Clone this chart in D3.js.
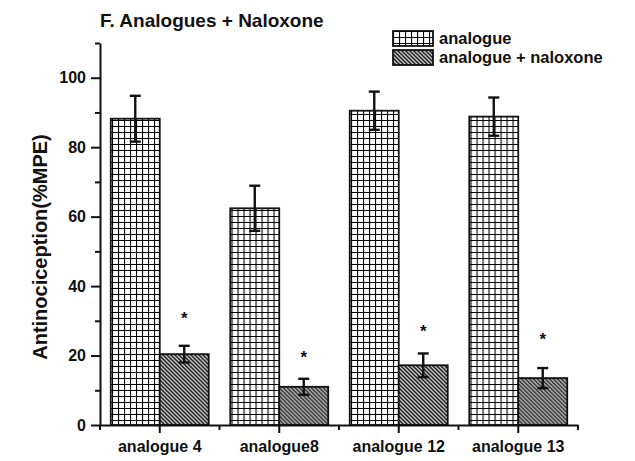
<!DOCTYPE html>
<html>
<head>
<meta charset="utf-8">
<script src="https://cdn.jsdelivr.net/npm/d3@7"></script>
<style>
  body { margin: 0; background: #fff; }
  text { font-family: "Liberation Sans", Arial, sans-serif; font-weight: bold; fill: #111; }
</style>
</head>
<body>
<script>
// data
const groups = ["analogue 4", "analogue8", "analogue 12", "analogue 13"];
const seriesNames = ["analogue", "analogue + naloxone"];
const analogueMean = [88.2, 62.4, 90.5, 88.8];
const analogueErr = [6.6, 6.5, 5.5, 5.5];
const naloxoneMean = [20.4, 11.0, 17.2, 13.5];
const naloxoneErr = [2.4, 2.3, 3.4, 2.9];
const starY = [31, 20, 27.5, 25];
const yTicks = [0, 20, 40, 60, 80, 100];

const width = 635, height = 461,
  margin = {left: 100, right: 57, top: 43, bottom: 36};

const svg = d3.select("body").append("svg")
  .attr("width", width)
  .attr("height", height);

const defs = svg.append("defs");

// square grid fill
const grid = defs.append("pattern")
  .attr("id", "grid")
  .attr("patternUnits", "userSpaceOnUse")
  .attr("width", 6).attr("height", 6);
grid.append("rect").attr("width", 6).attr("height", 6).attr("fill", "#fff");
grid.append("path")
  .attr("d", "M0,0H6M0,0V6")
  .attr("stroke", "#000").attr("stroke-width", 2.2);

// diagonal hatch fill
const hatch = defs.append("pattern")
  .attr("id", "hatch")
  .attr("patternUnits", "userSpaceOnUse")
  .attr("width", 4).attr("height", 4);
hatch.append("rect").attr("width", 4).attr("height", 4).attr("fill", "#c8c8c8");
hatch.append("path")
  .attr("d", "M-1,-1L5,5M-1,3L1,5M3,-1L5,1")
  .attr("stroke", "#222").attr("stroke-width", 1.5);

const x = d3.scaleBand()
  .domain(groups)
  .range([margin.left, width - margin.right]);

const sub = d3.scaleBand()
  .domain(seriesNames)
  .range([0, x.bandwidth()])
  .paddingOuter(0.22);

const y = d3.scaleLinear()
  .domain([0, 110])
  .range([height - margin.bottom, margin.top]);

const rows = groups.map((g, i) => ({
  group: g,
  bars: [
    {name: seriesNames[0], v: analogueMean[i], e: analogueErr[i], fill: "url(#grid)"},
    {name: seriesNames[1], v: naloxoneMean[i], e: naloxoneErr[i], fill: "url(#hatch)"}
  ],
  star: starY[i]
}));

const g = svg.append("g")
  .selectAll("g")
  .data(rows)
  .join("g")
  .attr("transform", d => `translate(${x(d.group)},0)`);

g.selectAll("rect")
  .data(d => d.bars)
  .join("rect")
  .attr("x", d => sub(d.name))
  .attr("width", sub.bandwidth())
  .attr("y", d => y(d.v))
  .attr("height", d => y(0) - y(d.v))
  .attr("fill", d => d.fill)
  .attr("stroke", "#111")
  .attr("stroke-width", 1.8);

// error bars
const err = g.selectAll("g.err")
  .data(d => d.bars)
  .join("g")
  .attr("class", "err")
  .attr("stroke", "#111")
  .attr("stroke-width", 2.4);
err.append("line")
  .attr("x1", d => sub(d.name) + sub.bandwidth() / 2)
  .attr("x2", d => sub(d.name) + sub.bandwidth() / 2)
  .attr("y1", d => y(d.v - d.e))
  .attr("y2", d => y(d.v + d.e));
err.selectAll("line.cap")
  .data(d => [d.v - d.e, d.v + d.e].map(v => ({v: v, cx: sub(d.name) + sub.bandwidth() / 2})))
  .join("line")
  .attr("class", "cap")
  .attr("x1", d => d.cx - 5.5)
  .attr("x2", d => d.cx + 5.5)
  .attr("y1", d => y(d.v))
  .attr("y2", d => y(d.v));

// significance marks
g.append("text")
  .attr("x", sub(seriesNames[1]) + sub.bandwidth() / 2)
  .attr("y", d => y(d.star) + 7)
  .attr("text-anchor", "middle")
  .style("font-size", "17px")
  .text("*");

// y axis
const yAxis = svg.append("g")
  .attr("transform", `translate(${margin.left},0)`)
  .call(d3.axisLeft(y).tickValues(yTicks).tickSize(9).tickPadding(5).tickSizeOuter(0));
yAxis.select(".domain").attr("stroke", "#111").attr("stroke-width", 2);
yAxis.selectAll(".tick line").attr("stroke", "#111").attr("stroke-width", 2);
yAxis.selectAll("text").style("font-size", "16px");
svg.append("g")
  .attr("transform", `translate(${margin.left},0)`)
  .call(d3.axisLeft(y).tickValues(d3.range(10, 111, 20)).tickSize(5).tickFormat(""))
  .call(a => a.select(".domain").remove())
  .selectAll("line").attr("stroke", "#111").attr("stroke-width", 2);

// x axis
const xAxis = svg.append("g")
  .attr("transform", `translate(0,${y(0)})`)
  .call(d3.axisBottom(x).tickSize(8).tickPadding(8).tickSizeOuter(0));
xAxis.select(".domain").attr("stroke", "#111").attr("stroke-width", 2);
xAxis.selectAll(".tick line").attr("stroke", "#111").attr("stroke-width", 2);
xAxis.selectAll("text").style("font-size", "16px");
svg.append("g")
  .attr("transform", `translate(0,${y(0)})`)
  .selectAll("line")
  .data(groups.slice(1).map(d => x(d)).concat([margin.left, width - margin.right]))
  .join("line")
  .attr("x1", d => d).attr("x2", d => d)
  .attr("y1", 0).attr("y2", 5)
  .attr("stroke", "#111").attr("stroke-width", 2);

// title and y label
svg.append("text")
  .attr("x", margin.left)
  .attr("y", 27)
  .style("font-size", "19px")
  .text("F. Analogues + Naloxone");

svg.append("text")
  .attr("transform", "translate(47,247) rotate(-90)")
  .attr("text-anchor", "middle")
  .style("font-size", "20px")
  .text("Antinociception(%MPE)");

// legend
const legend = svg.append("g")
  .selectAll("g")
  .data([{name: seriesNames[0], fill: "url(#grid)"}, {name: seriesNames[1], fill: "url(#hatch)"}])
  .join("g")
  .attr("transform", (d, i) => `translate(393,${31 + i * 19})`);
legend.append("rect")
  .attr("width", 40).attr("height", 15)
  .attr("fill", d => d.fill)
  .attr("stroke", "#111").attr("stroke-width", 1.8);
legend.append("text")
  .attr("x", 46).attr("y", 13)
  .style("font-size", "16.5px")
  .text(d => d.name);
</script>
</body>
</html>
